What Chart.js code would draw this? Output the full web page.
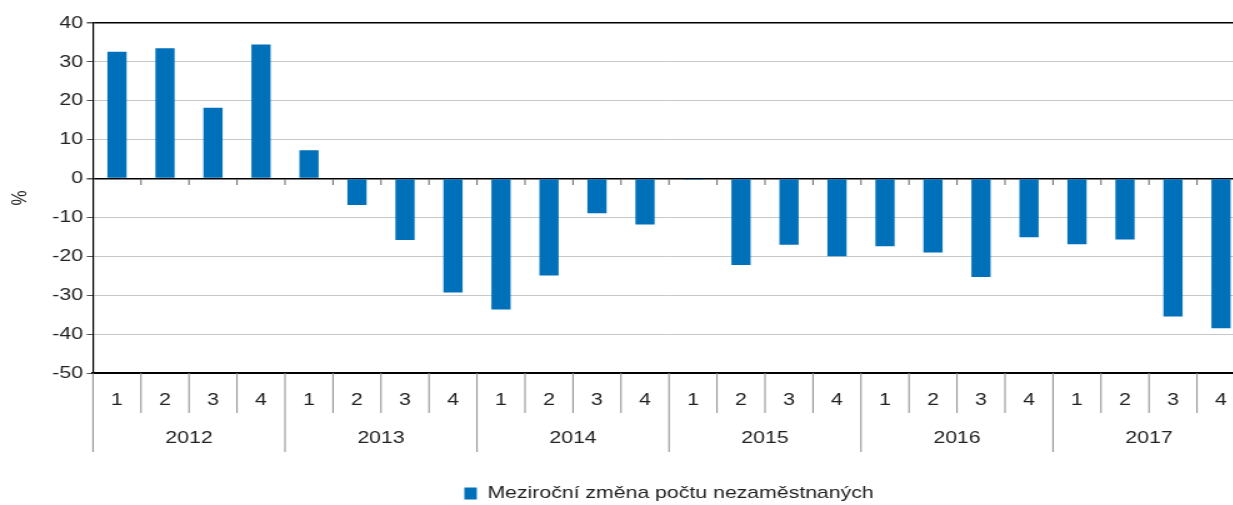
<!DOCTYPE html>
<html>
<head>
<meta charset="utf-8">
<script src="https://cdn.jsdelivr.net/npm/chart.js@4.4.0/dist/chart.umd.min.js"></script>
<style>
  html, body { margin: 0; padding: 0; background: #fff; overflow: hidden; }
  /* the reference is stretched sideways, so the whole chart is too */
  #wrap { width: 1000px; height: 505px; transform: scaleX(1.25); transform-origin: 0 0; }
</style>
</head>
<body>
<div id="wrap"><canvas id="chart" width="1000" height="505"></canvas></div>
<script>
const years = ['2012', '2013', '2014', '2015', '2016', '2017']
const quarters = ['1', '2', '3', '4']
const values = [
  32.6, 33.5, 18.2, 34.5,
  7.3, -6.8, -15.8, -29.3,
  -33.7, -24.9, -8.9, -11.8,
  -0.3, -22.2, -17.0, -20.0,
  -17.4, -19.0, -25.3, -15.1,
  -16.9, -15.7, -35.5, -38.5
]
const seriesName = 'Meziroční změna počtu nezaměstnaných'

const labels = []
years.forEach(y => quarters.forEach(q => labels.push(q)))

const font = { family: 'Liberation Sans, Arial, sans-serif', size: 17 }
const textColor = '#222'

// separators under the axis, year labels, small ticks on the zero line
const groupAxis = {
  id: 'groupAxis',
  afterLayout(chart) {
    // legend sits centred under the plot area, a bit lower
    const lg = chart.legend
    const shift = (chart.chartArea.left + chart.chartArea.right) / 2 - (lg.left + lg.right) / 2
    lg.left += shift
    lg.right += shift
    lg.top += 7
    lg.bottom += 7
  },
  afterDraw(chart) {
    const ctx = chart.ctx
    const x = chart.scales.x, y = chart.scales.y
    const area = chart.chartArea
    const half = (x.getPixelForValue(1) - x.getPixelForValue(0)) / 2
    const zero = Math.round(y.getPixelForValue(0))
    ctx.save()
    ctx.lineWidth = 1
    for (let i = 0; i <= labels.length; i++) {
      const px = x.getPixelForValue(i) - half
      const isYear = i % quarters.length === 0
      ctx.strokeStyle = '#8a8a8a'
      ctx.beginPath()
      ctx.moveTo(px, area.bottom)
      ctx.lineTo(px, area.bottom + (isYear ? 79 : 40))
      ctx.stroke()
      if (i > 0 && i < labels.length) {
        ctx.strokeStyle = '#666'
        ctx.beginPath()
        ctx.moveTo(px, zero)
        ctx.lineTo(px, zero + 6)
        ctx.stroke()
      }
    }
    ctx.fillStyle = textColor
    ctx.font = font.size + 'px ' + font.family
    ctx.textAlign = 'center'
    ctx.textBaseline = 'middle'
    years.forEach((yr, j) => {
      const a = x.getPixelForValue(j * quarters.length) - half
      const b = x.getPixelForValue((j + 1) * quarters.length - 1) + half
      ctx.fillText(yr, (a + b) / 2, area.bottom + 65)
    })
    ctx.restore()
  }
}

new Chart(document.getElementById('chart'), {
  type: 'bar',
  data: {
    labels: labels,
    datasets: [{
      label: seriesName,
      data: values,
      backgroundColor: '#0070bb',
      borderWidth: 0,
      barPercentage: 0.4,
      categoryPercentage: 1.0
    }]
  },
  options: {
    responsive: false,
    animation: false,
    layout: { padding: { left: 0, right: 4, top: 23, bottom: 0 } },
    plugins: {
      tooltip: { enabled: false },
      legend: {
        position: 'bottom',
        labels: {
          font: font,
          color: textColor,
          boxWidth: 10,
          boxHeight: 12,
          padding: 2
        }
      }
    },
    scales: {
      x: {
        grid: { display: false, drawTicks: false },
        border: { display: true, color: '#000', width: 2 },
        ticks: { font: font, color: textColor, padding: 17, maxRotation: 0, autoSkip: false },
        afterFit(scale) { scale.height = 103 }
      },
      y: {
        min: -50,
        max: 40,
        ticks: { stepSize: 10, font: font, color: textColor, padding: 3 },
        grid: {
          color: c => (c.tick && (c.tick.value === 0 || c.tick.value === 40 || c.tick.value === -50)) ? '#000' : '#c8c8c8',
          lineWidth: c => (c.tick && (c.tick.value === 0 || c.tick.value === 40)) ? 1.5 : 1,
          tickColor: '#555',
          tickLength: 5
        },
        border: { display: true, color: '#000', width: 1.2 },
        title: { display: true, text: '%', font: font, color: textColor, padding: { top: 6, bottom: 0 } },
        afterFit(scale) { scale.width = 74.4 }
      }
    }
  },
  plugins: [groupAxis]
})
</script>
</body>
</html>
